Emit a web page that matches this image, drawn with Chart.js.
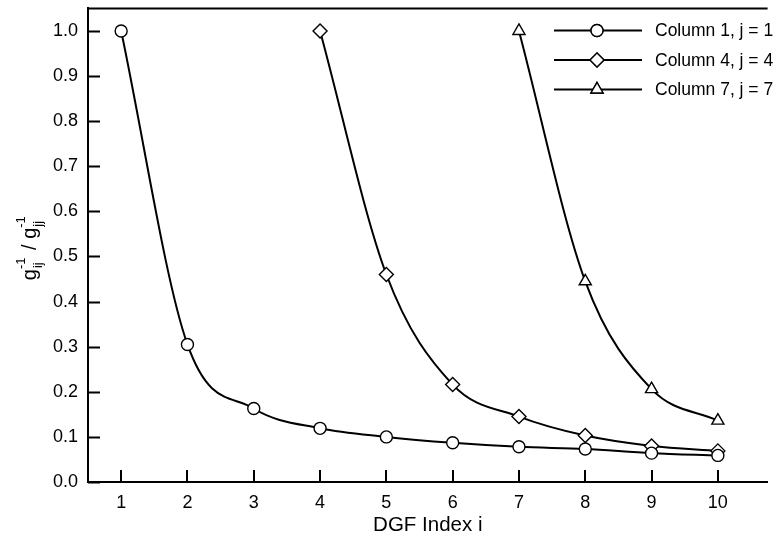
<!DOCTYPE html>
<html>
<head>
<meta charset="utf-8">
<script src="https://cdn.jsdelivr.net/npm/chart.js@4.4.1/dist/chart.umd.min.js"></script>
<style>
  body { margin: 0; background: #fff; }
</style>
</head>
<body>
<canvas id="chart" width="776" height="537"></canvas>
<script>
// DGF index values and the three columns of the normalised inverse
const xIndex = [1, 2, 3, 4, 5, 6, 7, 8, 9, 10];
const col1 = [1.0, 0.305, 0.163, 0.119, 0.100, 0.087, 0.078, 0.073, 0.064, 0.059];
const col4 = [1.0, 0.46, 0.216, 0.145, 0.103, 0.080, 0.069];   // i = 4..10
const col7 = [1.0, 0.445, 0.206, 0.136];                       // i = 7..10
const yTicks = [0, 0.1, 0.2, 0.3, 0.4, 0.5, 0.6, 0.7, 0.8, 0.9, 1.0];
const labels = ["Column 1, j = 1", "Column 4, j = 4", "Column 7, j = 7"];

const FONT = "'Liberation Sans', Arial, sans-serif";

function pts(vals, start) {
    return vals.map((v, k) => ({ x: xIndex[start + k], y: v }));
}

function ds(label, data, style, radius) {
    return {
        label: label,
        data: data,
        borderColor: "#000",
        borderWidth: 2,
        cubicInterpolationMode: "monotone",
        pointStyle: style,
        pointRadius: radius,
        pointBackgroundColor: "#fff",
        pointBorderColor: "#000",
        pointBorderWidth: 1.4,
        fill: false
    };
}

// frame, inward ticks, legend and the y title
const extras = {
    id: "extras",
    afterDraw(chart) {
        const c = chart.ctx;
        const a = chart.chartArea;
        const xs = chart.scales.x, ys = chart.scales.y;
        c.save();
        c.strokeStyle = "#000";
        c.lineWidth = 2;
        c.beginPath();
        c.moveTo(a.left - 1, a.top);
        c.lineTo(a.right, a.top);
        c.stroke();

        c.lineWidth = 2;
        c.beginPath();
        yTicks.forEach(v => {
            const y = Math.round(ys.getPixelForValue(v)) + 0.5;
            c.moveTo(a.left, y);
            c.lineTo(a.left + 12, y);
        });
        xIndex.forEach(v => {
            const x = Math.round(xs.getPixelForValue(v));
            c.moveTo(x, a.bottom);
            c.lineTo(x, a.bottom - 12);
        });
        c.stroke();

        // legend
        c.font = "17.5px " + FONT;
        c.textBaseline = "middle";
        c.fillStyle = "#000";
        chart.data.datasets.forEach((d, k) => {
            const y = 30.5 + k * 29.5;
            c.lineWidth = 2;
            c.beginPath();
            c.moveTo(554, y);
            c.lineTo(642, y);
            c.stroke();
            c.fillStyle = "#fff";
            c.lineWidth = 1.4;
            Chart.helpers.drawPoint(c, { pointStyle: d.pointStyle, radius: d.pointRadius, borderWidth: 1.4 }, 597, y);
            c.fill();
            c.stroke();
            c.fillStyle = "#000";
            c.fillText(d.label, 655, y + 1);
        });

        // x axis title
        c.font = "20.5px " + FONT;
        c.textAlign = "center";
        c.fillText("DGF Index i", (a.left + a.right) / 2, 525);
        c.textAlign = "left";

        // y axis title: g^-1_ij / g^-1_jj
        c.translate(30, (a.top + a.bottom) / 2 + 2);
        c.rotate(-Math.PI / 2);
        const big = "20px " + FONT, small = "13px " + FONT;
        const parts = [["g", "-1", "ij"], [" / g", "-1", "jj"]];
        let w = 0;
        parts.forEach(p => {
            c.font = big; w += c.measureText(p[0]).width;
            c.font = small; w += Math.max(c.measureText(p[1]).width, c.measureText(p[2]).width) + 2;
        });
        let x = -w / 2;
        c.textBaseline = "alphabetic";
        parts.forEach(p => {
            c.font = big;
            c.fillText(p[0], x, 6);
            x += c.measureText(p[0]).width;
            c.font = small;
            c.fillText(p[1], x, -5);
            c.fillText(p[2], x + 1, 12);
            x += Math.max(c.measureText(p[1]).width, c.measureText(p[2]).width) + 2;
        });
        c.restore();
    }
};

new Chart(document.getElementById("chart"), {
    type: "line",
    data: {
        datasets: [
            ds(labels[0], pts(col1, 0), "circle", 6),
            ds(labels[1], pts(col4, 3), "rectRot", 7),
            ds(labels[2], pts(col7, 6), "triangle", 7)
        ]
    },
    options: {
        responsive: false,
        animation: false,
        layout: { padding: { top: 8, right: 0, left: 0, bottom: 0 } },
        plugins: { legend: { display: false }, tooltip: { enabled: false } },
        scales: {
            x: {
                type: "linear",
                min: 0.5,
                max: 10.75,
                afterBuildTicks: s => { s.ticks = xIndex.map(v => ({ value: v })); },
                afterFit: s => { s.height = 55; s.paddingLeft = 0; s.paddingRight = 0; },
                grid: { drawOnChartArea: false, drawTicks: false },
                border: { display: true, color: "#000", width: 2 },
                ticks: { color: "#000", padding: 10, font: { family: FONT, size: 18 } }
            },
            y: {
                min: 0,
                max: 1.05,
                afterBuildTicks: s => { s.ticks = yTicks.map(v => ({ value: v })); },
                afterFit: s => { s.width = 88; s.paddingTop = 0; s.paddingBottom = 0; },
                grid: { drawOnChartArea: false, drawTicks: false },
                border: { display: true, color: "#000", width: 2 },
                ticks: {
                    color: "#000",
                    padding: 10,
                    font: { family: FONT, size: 18 },
                    callback: v => v.toFixed(1)
                }
            }
        }
    },
    plugins: [extras]
});
</script>
</body>
</html>
